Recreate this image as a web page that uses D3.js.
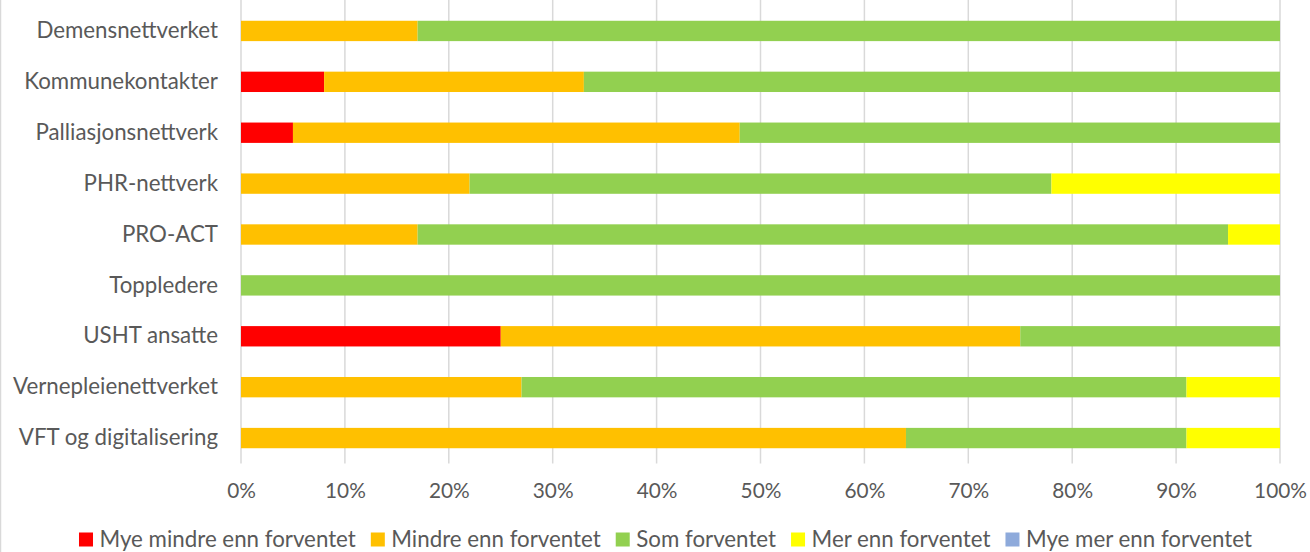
<!DOCTYPE html>
<html>
<head>
<meta charset="utf-8">
<script src="https://cdn.jsdelivr.net/npm/d3@7"></script>
<style>
  body { margin: 0; background: #fff; }
  svg { display: block; }
</style>
</head>
<body>
<script>
const categories = [
  "Demensnettverket",
  "Kommunekontakter",
  "Palliasjonsnettverk",
  "PHR-nettverk",
  "PRO-ACT",
  "Toppledere",
  "USHT ansatte",
  "Vernepleienettverket",
  "VFT og digitalisering",
];

const seriesNames = [
  "Mye mindre enn forventet",
  "Mindre enn forventet",
  "Som forventet",
  "Mer enn forventet",
  "Mye mer enn forventet",
];

const myeMindre = [0, 8, 5, 0, 0, 0, 25, 0, 0];
const mindre = [17, 25, 43, 22, 17, 0, 50, 27, 64];
const somForventet = [83, 67, 52, 56, 78, 100, 25, 64, 27];
const mer = [0, 0, 0, 22, 5, 0, 0, 9, 9];
const myeMer = [0, 0, 0, 0, 0, 0, 0, 0, 0];

const colors = ["#ff0000", "#ffc000", "#92d050", "#ffff00", "#8eaadb"];

const xTicks = [0, 10, 20, 30, 40, 50, 60, 70, 80, 90, 100];

const width = 1310;
const height = 552;
const font = "Lato, 'Open Sans', sans-serif";
const textColor = "#595959";
const labelSize = 22.3;

const rows = categories.map((name, i) => ({
  name,
  [seriesNames[0]]: myeMindre[i],
  [seriesNames[1]]: mindre[i],
  [seriesNames[2]]: somForventet[i],
  [seriesNames[3]]: mer[i],
  [seriesNames[4]]: myeMer[i],
}));

const stacked = d3.stack().keys(seriesNames)(rows);

const xScale = d3.scaleLinear().domain([0, 100]).range([241, 1280]);

const yScale = d3
  .scaleBand()
  .domain(categories)
  .range([5.5, 463.5])
  .paddingInner(0.6)
  .paddingOuter(0.3);

const color = d3.scaleOrdinal().domain(seriesNames).range(colors);

const svg = d3
  .select("body")
  .append("svg")
  .attr("width", width)
  .attr("height", height);

// chart border on the left
svg
  .append("line")
  .attr("x1", 0.5)
  .attr("x2", 0.5)
  .attr("y1", 0)
  .attr("y2", height)
  .attr("stroke", "#d9d9d9")
  .attr("stroke-width", 1.5);

// gridlines
svg
  .append("g")
  .selectAll("line")
  .data(xTicks)
  .enter()
  .append("line")
  .attr("x1", (d) => xScale(d))
  .attr("x2", (d) => xScale(d))
  .attr("y1", 0)
  .attr("y2", 463.5)
  .attr("stroke", "#d9d9d9")
  .attr("stroke-width", 1.5);

// bars
svg
  .append("g")
  .selectAll("g")
  .data(stacked)
  .enter()
  .append("g")
  .attr("fill", (d) => color(d.key))
  .selectAll("rect")
  .data((d) => d)
  .enter()
  .append("rect")
  .attr("x", (d) => xScale(d[0]))
  .attr("y", (d) => yScale(d.data.name))
  .attr("width", (d) => xScale(d[1]) - xScale(d[0]))
  .attr("height", yScale.bandwidth());

// x axis labels
const xAxis = d3
  .axisBottom(xScale)
  .tickValues(xTicks)
  .tickFormat((d) => `${d}%`)
  .tickSize(0)
  .tickPadding(0);

const xAxisGroup = svg
  .append("g")
  .attr("transform", "translate(0 483)")
  .call(xAxis);
xAxisGroup.select(".domain").remove();
xAxisGroup
  .selectAll("text")
  .attr("font-family", font)
  .attr("font-size", 20.8)
  .attr("fill", textColor);

// y axis labels
const yAxis = d3.axisLeft(yScale).tickSize(0).tickPadding(23);
const yAxisGroup = svg
  .append("g")
  .attr("transform", "translate(241 0)")
  .call(yAxis);
yAxisGroup.select(".domain").remove();
yAxisGroup
  .selectAll("text")
  .attr("font-family", font)
  .attr("font-size", labelSize)
  .attr("fill", textColor)
  .attr("dy", "0.32em");

// legend
const legend = svg.append("g");
const items = legend
  .selectAll("g")
  .data(seriesNames)
  .enter()
  .append("g");

items
  .append("rect")
  .attr("y", 532.5)
  .attr("width", 14)
  .attr("height", 14)
  .attr("fill", (d) => color(d));

items
  .append("text")
  .attr("x", 20.5)
  .attr("y", 546.5)
  .text((d) => d)
  .attr("font-family", font)
  .attr("font-size", labelSize)
  .attr("fill", textColor);

let cursor = 0;
const offsets = [];
items.each(function () {
  offsets.push(cursor);
  const w = d3.select(this).select("text").node().getComputedTextLength();
  cursor += 20.5 + w + 15;
});
const total = cursor - 15;
const start = 665.5 - total / 2;
items.attr("transform", (d, i) => `translate(${start + offsets[i]} 0)`);
</script>
</body>
</html>
